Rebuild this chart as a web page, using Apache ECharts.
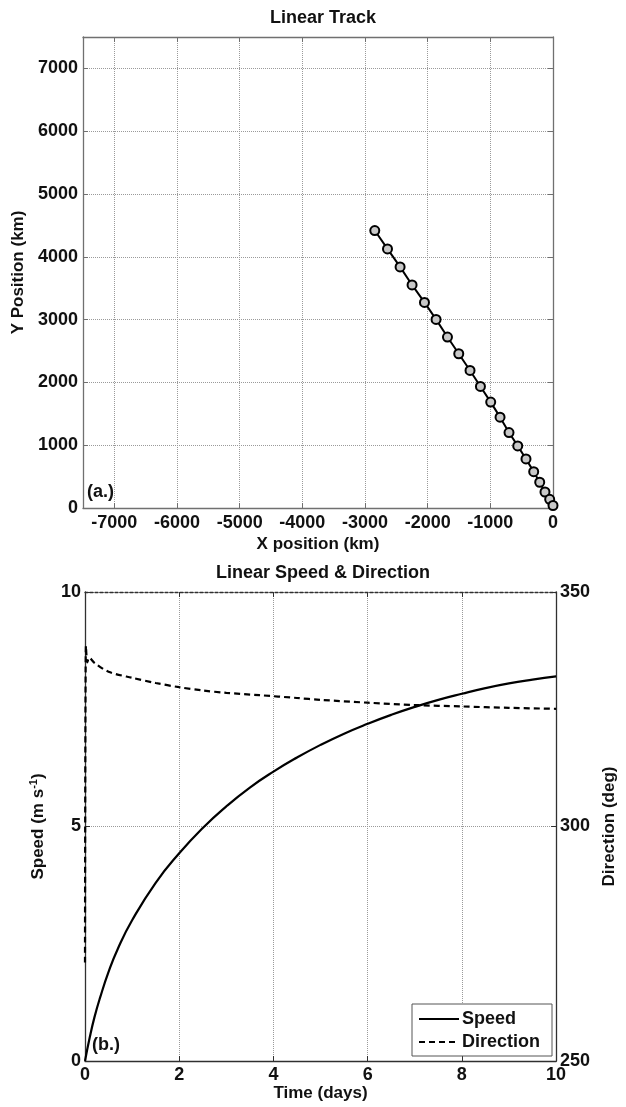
<!DOCTYPE html>
<html><head><meta charset="utf-8">
<script src="https://cdn.jsdelivr.net/npm/echarts@6/dist/echarts.min.js"></script>
<style>html,body{margin:0;padding:0;background:#fff}#c{width:626px;height:1107px}</style>
</head><body><div id="c"></div>
<script>
// ---- Panel (a) Linear Track ----
const trackX = [-2844, -2641, -2440, -2249, -2051, -1866, -1684, -1504, -1324, -1158, -994, -845, -702, -563, -431, -308, -212, -128, -53, 0];
const trackY = [4418, 4126, 3839, 3552, 3274, 3003, 2722, 2456, 2190, 1935, 1686, 1447, 1201, 989, 781, 579, 410, 255, 139, 40];
const xTickLabelsTop = [-7000, -6000, -5000, -4000, -3000, -2000, -1000, 0];
const yTickLabelsTop = [0, 1000, 2000, 3000, 4000, 5000, 6000, 7000];

// ---- Panel (b) Linear Speed & Direction ----
const speedTime = [0, 0.1, 0.2, 0.32, 0.5, 0.7, 1.0, 1.5, 2.0, 2.5, 3.0, 3.5, 4.0, 4.5, 5.0, 5.5, 6.0, 6.5, 7.0, 7.5, 8.0, 8.5, 9.0, 9.5, 10];
const speedVals = [0, 0.5, 0.93, 1.35, 1.9, 2.4, 3.0, 3.8, 4.43, 4.97, 5.43, 5.83, 6.17, 6.47, 6.74, 6.98, 7.19, 7.38, 7.55, 7.7, 7.83, 7.95, 8.05, 8.13, 8.2];
const dirTime = [0, 0.02, 0.05, 0.09, 0.2, 0.5, 1.0, 1.5, 2.0, 2.5, 3.0, 3.7, 4.5, 5.0, 6.0, 7.0, 8.0, 9.0, 10];
const dirVals = [271, 338.5, 335, 336, 334.9, 333, 331.7, 330.6, 329.7, 329, 328.5, 328, 327.4, 327, 326.4, 325.9, 325.6, 325.3, 325.1];

const FONT = "'Liberation Sans', Arial, sans-serif";
const txt = {fontFamily: FONT, fontWeight: 'bold', fontSize: 18, color: '#111'};
const plain = v => String(v);
const gridLine = {show: true, lineStyle: {type: 'dotted', color: '#9a9a9a', width: 1}};
const boxA = '#707070';
const boxB = '#303030';
const nameStyle = {fontFamily: FONT, fontWeight: 'bold', fontSize: 17, color: '#111'};

const chart = echarts.init(document.getElementById('c'), null, {renderer: 'canvas'});
chart.setOption({
  animation: false,
  backgroundColor: '#fff',
  title: [
    {text: 'Linear Track', left: 318, top: 4, textAlign: 'center',
     textStyle: {fontFamily: FONT, fontWeight: 'bold', fontSize: 18, color: '#111'}},
    {text: 'Linear Speed & Direction', left: 318, top: 559, textAlign: 'center',
     textStyle: {fontFamily: FONT, fontWeight: 'bold', fontSize: 18, color: '#111'}}
  ],
  grid: [
    {left: 83, top: 37, width: 470, height: 471},
    {left: 85, top: 592, width: 472, height: 469}
  ],
  xAxis: [
    {gridIndex: 0, type: 'value', position: 'bottom', min: -7500, max: 0, splitNumber: 8,
     axisLine: {show: true, onZero: false, lineStyle: {color: boxA, width: 1.3}},
     axisTick: {show: true, inside: true, length: 5, customValues: xTickLabelsTop, lineStyle: {color: boxA}},
     axisLabel: Object.assign({margin: 6, customValues: xTickLabelsTop, formatter: plain}, txt),
     splitLine: gridLine,
     name: 'X position (km)', nameLocation: 'middle', nameGap: 28, nameTextStyle: nameStyle},
    {gridIndex: 0, type: 'value', position: 'top', min: -7500, max: 0, splitNumber: 8,
     axisLine: {show: true, onZero: false, lineStyle: {color: boxA, width: 1.3}},
     axisTick: {show: true, inside: true, length: 5, customValues: xTickLabelsTop, lineStyle: {color: boxA}},
     axisLabel: {show: false}, splitLine: {show: false}},
    {gridIndex: 1, type: 'value', position: 'bottom', min: 0, max: 10, interval: 2,
     axisLine: {show: true, onZero: false, lineStyle: {color: boxB, width: 1.3}},
     axisTick: {show: true, inside: true, length: 5, lineStyle: {color: boxB}},
     axisLabel: Object.assign({margin: 5, formatter: plain}, txt),
     splitLine: gridLine,
     name: 'Time (days)', nameLocation: 'middle', nameGap: 23, nameTextStyle: nameStyle},
    {gridIndex: 1, type: 'value', position: 'top', min: 0, max: 10, interval: 2,
     axisLine: {show: true, onZero: false, lineStyle: {color: boxB, width: 1.3, type: [3, 2]}},
     axisTick: {show: true, inside: true, length: 5, lineStyle: {color: boxB}},
     axisLabel: {show: false}, splitLine: {show: false}}
  ],
  yAxis: [
    {gridIndex: 0, type: 'value', position: 'left', min: 0, max: 7500, interval: 1000,
     axisLine: {show: true, onZero: false, lineStyle: {color: boxA, width: 1.3}},
     axisTick: {show: true, inside: true, length: 5, customValues: yTickLabelsTop, lineStyle: {color: boxA}},
     axisLabel: Object.assign({margin: 5, customValues: yTickLabelsTop, formatter: plain}, txt),
     splitLine: gridLine,
     name: 'Y Position (km)', nameLocation: 'middle', nameGap: 52, nameRotate: 90, nameTextStyle: nameStyle},
    {gridIndex: 0, type: 'value', position: 'right', min: 0, max: 7500, interval: 1000,
     axisLine: {show: true, onZero: false, lineStyle: {color: boxA, width: 1.3}},
     axisTick: {show: true, inside: true, length: 5, customValues: yTickLabelsTop, lineStyle: {color: boxA}},
     axisLabel: {show: false}, splitLine: {show: false}},
    {gridIndex: 1, type: 'value', position: 'left', min: 0, max: 10, interval: 5,
     axisLine: {show: true, onZero: false, lineStyle: {color: boxB, width: 1.3}},
     axisTick: {show: true, inside: true, length: 5, lineStyle: {color: boxB}},
     axisLabel: Object.assign({margin: 4, formatter: plain}, txt),
     splitLine: gridLine,
     name: 'Speed (m s{sup|-1})', nameLocation: 'middle', nameGap: 37, nameRotate: 90,
     nameTextStyle: Object.assign({lineHeight: 20,
       rich: {sup: {fontFamily: FONT, fontWeight: 'bold', fontSize: 11, color: '#111', verticalAlign: 'top', lineHeight: 20}}}, nameStyle)},
    {gridIndex: 1, type: 'value', position: 'right', min: 250, max: 350, interval: 50,
     axisLine: {show: true, onZero: false, lineStyle: {color: boxB, width: 1.3}},
     axisTick: {show: true, inside: true, length: 5, lineStyle: {color: boxB}},
     axisLabel: Object.assign({margin: 4, formatter: plain}, txt),
     splitLine: {show: false},
     name: 'Direction (deg)', nameLocation: 'middle', nameGap: 35, nameRotate: 90, nameTextStyle: nameStyle}
  ],
  legend: {
    data: ['Speed', 'Direction'], orient: 'vertical', left: 412, top: 1004,
    backgroundColor: '#fff', borderColor: '#555', borderWidth: 1, borderRadius: 0,
    padding: [6, 12, 5, 6], itemGap: 5, itemWidth: 40, itemHeight: 14,
    itemStyle: {color: 'rgba(0,0,0,0)', borderWidth: 0, opacity: 0},
    textStyle: {fontFamily: FONT, fontWeight: 'bold', fontSize: 18, color: '#111', padding: [0, 0, 0, -2]}
  },
  graphic: [
    {type: 'text', left: 87, top: 483, style: {text: '(a.)', font: "bold 18px 'Liberation Sans', Arial", fill: '#111'}},
    {type: 'text', left: 92, top: 1036, style: {text: '(b.)', font: "bold 18px 'Liberation Sans', Arial", fill: '#111'}}
  ],
  series: [
    {type: 'line', xAxisIndex: 0, yAxisIndex: 0,
     data: trackX.map((x, i) => [x, trackY[i]]),
     symbol: 'circle', symbolSize: 9, showAllSymbol: true,
     lineStyle: {color: '#000', width: 2},
     itemStyle: {color: '#c8c8c8', borderColor: '#000', borderWidth: 2}},
    {name: 'Speed', type: 'line', xAxisIndex: 2, yAxisIndex: 2,
     data: speedTime.map((t, i) => [t, speedVals[i]]),
     symbol: 'none', smooth: 0.5,
     lineStyle: {color: '#000', width: 2.2, type: 'solid'},
     itemStyle: {color: '#000'}},
    {name: 'Direction', type: 'line', xAxisIndex: 2, yAxisIndex: 3,
     data: dirTime.map((t, i) => [t, dirVals[i]]),
     symbol: 'none', smooth: 0.3,
     lineStyle: {color: '#000', width: 2.2, type: [6, 4]},
     itemStyle: {color: '#000'}}
  ]
});
</script>
</body></html>
